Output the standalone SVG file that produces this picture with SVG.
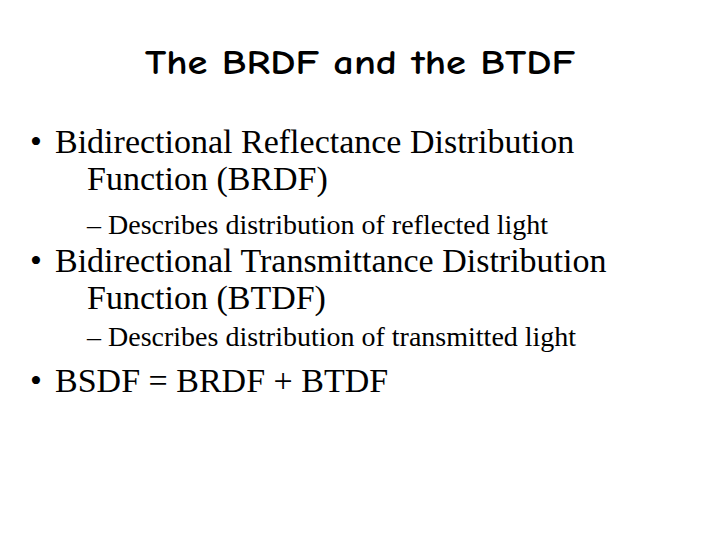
<svg xmlns="http://www.w3.org/2000/svg" width="720" height="540" viewBox="0 0 720 540">
<style>
.t{font-family:"Comic Neue","DejaVu Sans","Liberation Sans",sans-serif;font-weight:bold;font-size:35px;fill:#000}
.b{font-family:"Liberation Serif",serif;font-size:34px;fill:#000}
.s{font-family:"Liberation Serif",serif;font-size:28px;fill:#000}
</style>
<rect width="720" height="540" fill="#fff"/>
<text class="t" x="145" y="74" textLength="430" lengthAdjust="spacingAndGlyphs">The BRDF and the BTDF</text>
<text class="b" x="30" y="153">•</text>
<text class="b" x="55" y="153">Bidirectional Reflectance Distribution</text>
<text class="b" x="87" y="190">Function (BRDF)</text>
<text class="s" x="87" y="234">– Describes distribution of reflected light</text>
<text class="b" x="30" y="272">•</text>
<text class="b" x="55" y="272">Bidirectional Transmittance Distribution</text>
<text class="b" x="87" y="309">Function (BTDF)</text>
<text class="s" x="87" y="346">– Describes distribution of transmitted light</text>
<text class="b" x="30" y="392">•</text>
<text class="b" x="55" y="392">BSDF = BRDF + BTDF</text>
</svg>
